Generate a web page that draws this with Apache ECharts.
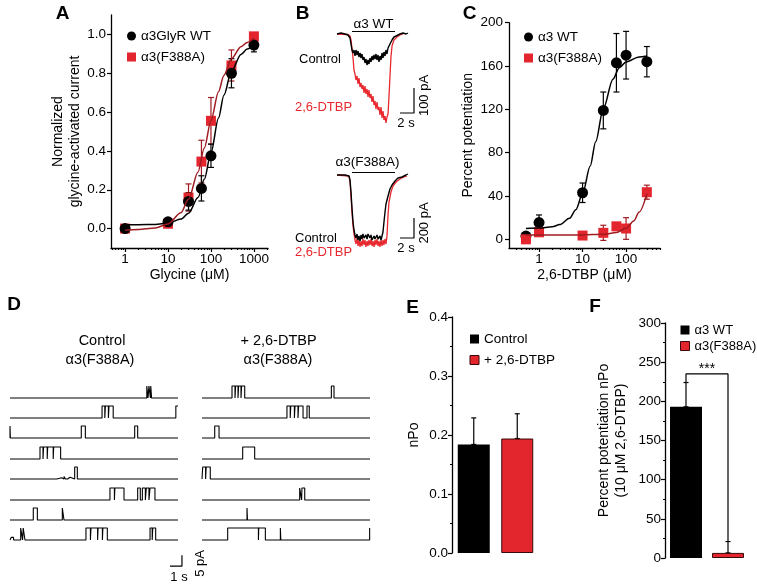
<!DOCTYPE html>
<html>
<head>
<meta charset="utf-8">
<script src="https://cdn.jsdelivr.net/npm/echarts@6/dist/echarts.min.js"></script>
<style>
  html, body { margin: 0; background: #fff; }
  #main { width: 757px; height: 586px; }
</style>
</head>
<body>
<div id="main"></div>
<script>
var lg = Math.log10;

// ---- A: glycine dose-response (normalized current)
var glyConc = [1, 10, 30, 60, 100, 300, 1000];
var glyWT = [0.0, 0.035, 0.14, 0.207, 0.375, 0.80, 0.945];
var glyWTErr = [0, 0.01, 0.045, 0.065, 0.06, 0.075, 0.035];
var glyMut = [0.0, 0.025, 0.16, 0.345, 0.555, 0.84, 0.99];
var glyMutErr = [0, 0.01, 0.07, 0.11, 0.12, 0.08, 0.012];
var glyFitConc = [1, 2, 5, 10, 20, 30, 50, 70, 100, 150, 200, 300, 500, 700, 1000];
var glyFitWT = [0.02, 0.02, 0.021, 0.028, 0.049, 0.079, 0.16, 0.254, 0.39, 0.57, 0.687, 0.81, 0.897, 0.925, 0.942];
var glyFitMut = [-0.008, -0.005, 0.003, 0.024, 0.082, 0.151, 0.292, 0.415, 0.556, 0.705, 0.789, 0.875, 0.937, 0.959, 0.98];
var glyTicks = [1, 10, 100, 1000];
var glyMinor = [0.5, 0.6, 0.7, 0.8, 0.9, 2, 3, 4, 5, 6, 7, 8, 9, 20, 30, 40, 50, 60, 70, 80, 90,
                200, 300, 400, 500, 600, 700, 800, 900, 2000];
var normTicks = [0, 0.2, 0.4, 0.6, 0.8, 1.0];

// ---- C: 2,6-DTBP potentiation
var dtbpConc = [0.5, 1, 10, 30, 60, 100, 300];
var potWT = [3, 15.5, 43, 119, 163, 170, 164];
var potWTErr = [2, 7, 9, 17, 27, 22, 14];
var potMut = [0, 6.5, 3.5, 6, 12, 10, 43.5];
var potMutErr = [0, 1, 1, 7, 2, 10, 6.5];
var dtbpFitConc = [0.5, 1, 2, 3, 5, 7, 10, 15, 20, 30, 50, 70, 100, 200, 300];
var dtbpFitWT = [10.1, 10.4, 11.6, 13.6, 19.4, 27.3, 42, 67.6, 90, 120.8, 147.9, 158.5, 163.8, 168.4, 169.3];
var dtbpFitMutConc = [0.5, 1, 3, 10, 30, 60, 100, 150, 200, 300];
var dtbpFitMut = [4, 4, 4, 4.1, 4.6, 6.3, 10.2, 17, 25.2, 42];
var dtbpTicks = [1, 10, 100];
var dtbpMinor = [0.3, 0.4, 0.5, 0.6, 0.7, 0.8, 0.9, 2, 3, 4, 5, 6, 7, 8, 9,
                 20, 30, 40, 50, 60, 70, 80, 90, 200, 300, 400, 500, 600];
var potTicks = [0, 40, 80, 120, 160, 200];

// ---- B: whole-cell currents (time s, current pA)
var wtCtrlTrace = [[0,0],[0.57,4],[1.14,0],[1.57,-4],[1.86,-16],[2.0,-40],[2.14,-64],[2.29,-76],[2.43,-64],
  [2.57,-88],[2.71,-64],[2.86,-84],[3.0,-68],[3.14,-92],[3.29,-76],[3.43,-96],[3.57,-80],[3.71,-104],
  [3.86,-92],[4.0,-116],[4.14,-100],[4.29,-124],[4.43,-104],[4.57,-120],[4.71,-96],[4.86,-112],[5.0,-88],
  [5.14,-104],[5.29,-84],[5.43,-100],[5.57,-80],[5.71,-104],[5.86,-84],[6.0,-112],[6.14,-88],[6.29,-104],
  [6.43,-76],[6.57,-96],[6.71,-72],[6.86,-88],[7.0,-64],[7.14,-80],[7.29,-56],[7.43,-64],[7.57,-40],
  [7.86,-24],[8.14,-12],[8.43,-8],[8.71,-4],[9.0,0],[9.43,4],[9.86,0],[10.14,4]];
var wtDtbpTrace = [[0,0],[1.57,-2],[1.86,-8],[2.0,-24],[2.14,-56],[2.29,-96],[2.43,-144],[2.57,-160],
  [2.71,-184],[2.86,-168],[3.0,-200],[3.14,-176],[3.29,-212],[3.43,-196],[3.57,-220],[3.71,-204],
  [3.86,-236],[4.0,-208],[4.14,-240],[4.29,-220],[4.43,-252],[4.57,-224],[4.71,-256],[4.86,-240],
  [5.0,-272],[5.14,-248],[5.29,-284],[5.43,-268],[5.57,-300],[5.71,-272],[5.86,-304],[6.0,-292],
  [6.14,-324],[6.29,-292],[6.43,-336],[6.57,-308],[6.71,-344],[6.86,-328],[7.0,-356],[7.14,-332],
  [7.29,-320],[7.43,-248],[7.57,-168],[7.71,-92],[7.86,-48],[8.14,-24],[8.57,-12],[9.0,-4],[9.43,0]];
var mutCtrlTrace = [[0,0],[1.14,0],[1.71,-10],[1.86,-50],[2.0,-170],[2.14,-330],[2.29,-470],[2.43,-550],
  [2.57,-600],[2.71,-630],[2.86,-590],[3.0,-650],[3.14,-610],[3.29,-660],[3.43,-600],[3.57,-640],
  [3.71,-590],[3.86,-630],[4.14,-600],[4.29,-640],[4.43,-590],[4.71,-630],[4.86,-600],[5.0,-650],
  [5.29,-610],[5.43,-640],[5.71,-600],[5.86,-640],[6.14,-610],[6.29,-650],[6.43,-610],[6.57,-570],
  [6.71,-470],[6.86,-370],[7.0,-290],[7.29,-210],[7.57,-140],[7.86,-100],[8.29,-60],[8.71,-30],
  [9.29,-20],[9.86,0],[10.14,10]];
var mutDtbpTrace = [[0,0],[1.71,-10],[1.86,-70],[2.0,-210],[2.14,-370],[2.29,-510],[2.43,-590],[2.57,-650],
  [2.71,-690],[2.86,-630],[3.0,-710],[3.14,-650],[3.29,-720],[3.43,-660],[3.57,-710],[3.71,-640],
  [3.86,-700],[4.0,-650],[4.14,-720],[4.29,-660],[4.43,-710],[4.57,-650],[4.71,-700],[4.86,-640],
  [5.0,-710],[5.14,-660],[5.29,-720],[5.43,-650],[5.57,-700],[5.71,-640],[5.86,-710],[6.0,-660],
  [6.14,-720],[6.29,-650],[6.43,-710],[6.57,-650],[6.71,-700],[6.86,-640],[7.0,-690],[7.14,-610],
  [7.29,-400],[7.43,-270],[7.71,-170],[8.0,-110],[8.43,-70],[9.0,-40],[9.57,-20],[10.0,-10]];
var appBarTop = [[2.14, 10], [8.29, 10]];
var appBarBottom = [[2.14, 25], [8.29, 25]];
var scaleTop = [[9, -316], [11, -316], [11, -216]];       // 2 s, 100 pA
var scaleBottom = [[9, -630], [11, -630], [11, -430]];    // 2 s, 200 pA

// ---- D: single-channel openings [start s, end s, (level pA)]
var openLevel = 5.5;
var traceEnd = 14;
var dCtrl = [
  [[11.4, 11.5], [11.58, 11.7], [11.73, 11.8]],
  [[7.67, 7.9], [7.95, 8.2], [8.25, 8.6], [13.82, 14]],
  [[0, 0.03], [5.94, 6.28], [10.39, 10.64]],
  [[2.5, 2.75], [2.8, 3.1], [3.14, 3.6], [3.64, 4.22]],
  [[3.9, 4.3, 0.6], [4.5, 4.62, 1.2], [4.8, 5.0, 0.8], [5.39, 5.61]],
  [[8.33, 8.7], [8.74, 9.5], [10.64, 10.86], [11.03, 11.28], [11.36, 11.58], [11.67, 12.08]],
  [[1.94, 2.28], [4.36, 4.5]],
  [[0.1, 0.3, 1.2], [0.89, 1.05], [1.1, 1.25], [6.33, 6.7], [6.75, 7.3], [7.34, 7.7], [7.74, 8.11], [11.67, 11.85], [11.9, 12.14]]
];
var dDtbp = [
  [[2.5, 2.75], [2.8, 3.0], [3.05, 3.25], [3.3, 3.56], [10.78, 11.0]],
  [[7.08, 7.35], [7.4, 7.7], [7.75, 8.0], [8.05, 8.42], [8.75, 8.94]],
  [[1.06, 1.42]],
  [[3.39, 4.39]],
  [[0.06, 0.3], [0.35, 0.69]],
  [[8.14, 8.3], [8.33, 8.56]],
  [[3.75, 3.79]],
  [[2.14, 4.7], [4.73, 5.28], [6.53, 6.57], [13.97, 14]]
];
var scaleD = [[13.33, 0], [14.33, 0], [14.33, 5]];        // 1 s, 5 pA

// ---- E: nPo
var npoNames = ['Control', '+ 2,6-DTBP'];
var npoMean = [0.184, 0.194];
var npoErr = [0.045, 0.042];

// ---- F: potentiation of nPo
var potNames = ['α3 WT', 'α3(F388A)'];
var potNpo = [193, 6.5];
var potNpoErr = [31, 14.5];
var sigLevel = 235;

var FONT = '"Liberation Sans", Arial, Helvetica, sans-serif';
var RED = '#e3262d';
var DARKRED = '#9e1c22';
var TRACE_RED = '#e8282e';

function merge(a, b) {
  var out = {};
  [a, b].forEach(function (src) {
    Object.keys(src || {}).forEach(function (k) {
      var v = src[k];
      if (v && typeof v === 'object' && !Array.isArray(v) &&
          out[k] && typeof out[k] === 'object' && !Array.isArray(out[k])) {
        out[k] = merge(out[k], v);
      } else {
        out[k] = v;
      }
    });
  });
  return out;
}

var grids = [], xAxes = [], yAxes = [], series = [], legends = [], graphics = [];
function addGrid(g) { grids.push(g); return grids.length - 1; }
function addX(a) { xAxes.push(a); return xAxes.length - 1; }
function addY(a) { yAxes.push(a); return yAxes.length - 1; }

function plotAxis(gi, extra) {
  return merge({
    gridIndex: gi, type: 'value',
    axisLine: { show: true, onZero: false, lineStyle: { color: '#000', width: 1.3 } },
    axisTick: { show: true, inside: false, length: 4, lineStyle: { color: '#000', width: 1.2 } },
    axisLabel: { color: '#000', fontSize: 13.5, fontFamily: FONT, margin: 5 },
    splitLine: { show: false },
    nameLocation: 'middle',
    nameTextStyle: { color: '#000', fontSize: 14, fontFamily: FONT, lineHeight: 17 }
  }, extra);
}
function hiddenAxis(gi, min, max) {
  return { gridIndex: gi, type: 'value', min: min, max: max, show: false };
}
function fmtPow(v) { return String(Math.round(Math.pow(10, v) * 1000) / 1000); }

function errorBars(color, half) {
  return function (params, api) {
    var x = api.value(0);
    var a = api.coord([x, api.value(1)]);
    var b = api.coord([x, api.value(2)]);
    var st = { stroke: color, lineWidth: 1.2 };
    return { type: 'group', children: [
      { type: 'line', shape: { x1: a[0], y1: a[1], x2: b[0], y2: b[1] }, style: st },
      { type: 'line', shape: { x1: a[0] - half, y1: a[1], x2: a[0] + half, y2: a[1] }, style: st },
      { type: 'line', shape: { x1: b[0] - half, y1: b[1], x2: b[0] + half, y2: b[1] }, style: st }
    ] };
  };
}
function errSeries(xi, yi, xs, mean, err, color, half, oneSided) {
  var data = [];
  xs.forEach(function (x, i) {
    if (err[i] > 0) data.push([x, oneSided ? mean[i] : mean[i] - err[i], mean[i] + err[i]]);
  });
  return { type: 'custom', xAxisIndex: xi, yAxisIndex: yi, renderItem: errorBars(color, half),
           encode: { x: 0, y: [1, 2] }, data: data, silent: true };
}
function zip(xs, ys) { return xs.map(function (x, i) { return [x, ys[i]]; }); }
function lineSeries(xi, yi, data, color, width, extra) {
  return merge({ type: 'line', xAxisIndex: xi, yAxisIndex: yi, data: data, showSymbol: false,
                 symbol: 'none', lineStyle: { color: color, width: width }, silent: true }, extra);
}
function legendStyle(extra) {
  return merge({ orient: 'vertical', itemWidth: 9, itemHeight: 9, itemGap: 7,
                 textStyle: { color: '#000', fontSize: 13.5, fontFamily: FONT, lineHeight: 14 },
                 selectedMode: false }, extra);
}
function txt(x, y, s, size, opts) {
  opts = opts || {};
  graphics.push({ type: 'text', x: x, y: y, rotation: opts.rot || 0, silent: true,
    style: { text: s, fill: opts.color || '#000', font: (opts.bold ? 'bold ' : '') + size + 'px ' + FONT,
             align: opts.align || 'center', verticalAlign: 'middle' } });
}

// ================= A =================
var gA = addGrid({ left: 111, top: 15, width: 157, height: 233 });
var xA = addX(plotAxis(gA, { min: lg(0.47), max: lg(2130), position: 'bottom',
  axisTick: { customValues: glyTicks.map(lg) },
  axisLabel: { customValues: glyTicks.map(lg), formatter: fmtPow, margin: 4 },
  name: 'Glycine (μM)', nameGap: 19 }));
var xAm = addX(plotAxis(gA, { min: lg(0.47), max: lg(2130), position: 'bottom',
  axisLine: { show: false }, axisLabel: { show: false },
  axisTick: { customValues: glyMinor.map(lg), length: 2 } }));
var yA = addY(plotAxis(gA, { min: -0.1, max: 1.1,
  axisTick: { customValues: normTicks },
  axisLabel: { customValues: normTicks, formatter: function (v) { return v.toFixed(1); } },
  name: 'Normalized\nglycine-activated current', nameGap: 27 }));
series.push(lineSeries(xA, yA, zip(glyFitConc.map(lg), glyFitWT), '#000', 1.5, { smooth: 0.3, smoothMonotone: 'x' }));
series.push(lineSeries(xA, yA, zip(glyFitConc.map(lg), glyFitMut), DARKRED, 1.5, { smooth: 0.3, smoothMonotone: 'x' }));
series.push(errSeries(xA, yA, glyConc.map(lg), glyMut, glyMutErr, DARKRED, 3));
series.push(errSeries(xA, yA, glyConc.map(lg), glyWT, glyWTErr, '#000', 3));
series.push({ type: 'scatter', name: 'α3(F388A)', xAxisIndex: xA, yAxisIndex: yA, symbol: 'rect', symbolSize: 10,
  itemStyle: { color: RED, opacity: 1 }, data: zip(glyConc.map(lg), glyMut) });
series.push({ type: 'scatter', name: 'α3GlyR WT', xAxisIndex: xA, yAxisIndex: yA, symbol: 'circle', symbolSize: 11,
  itemStyle: { color: '#000', opacity: 1 }, data: zip(glyConc.map(lg), glyWT) });
legends.push(legendStyle({ left: 122, top: 24, itemGap: 7,
  data: [{ name: 'α3GlyR WT', icon: 'circle', itemStyle: { color: '#000', opacity: 1 } },
         { name: 'α3(F388A)', icon: 'rect', itemStyle: { color: RED, opacity: 1 } }] }));

// ================= C =================
var gC = addGrid({ left: 509, top: 22.7, width: 151, height: 225.3 });
var xC = addX(plotAxis(gC, { min: lg(0.204), max: lg(602), position: 'bottom',
  axisTick: { customValues: dtbpTicks.map(lg) },
  axisLabel: { customValues: dtbpTicks.map(lg), formatter: fmtPow, margin: 4 },
  name: '2,6-DTBP (μM)', nameGap: 19 }));
var xCm = addX(plotAxis(gC, { min: lg(0.204), max: lg(602), position: 'bottom',
  axisLine: { show: false }, axisLabel: { show: false },
  axisTick: { customValues: dtbpMinor.map(lg), length: 2 } }));
var yC = addY(plotAxis(gC, { min: -8, max: 200,
  axisTick: { customValues: potTicks }, axisLabel: { customValues: potTicks, margin: 6 },
  name: 'Percent potentiation', nameGap: 27 }));
series.push(lineSeries(xC, yC, zip(dtbpFitConc.map(lg), dtbpFitWT), '#000', 1.5, { smooth: 0.3, smoothMonotone: 'x' }));
series.push(lineSeries(xC, yC, zip(dtbpFitMutConc.map(lg), dtbpFitMut), DARKRED, 1.5, { smooth: 0.3, smoothMonotone: 'x' }));
series.push(errSeries(xC, yC, dtbpConc.map(lg), potWT, potWTErr, '#000', 3));
series.push(errSeries(xC, yC, dtbpConc.map(lg), potMut, potMutErr, DARKRED, 3));
series.push({ type: 'scatter', name: 'α3 WT', xAxisIndex: xC, yAxisIndex: yC, symbol: 'circle', symbolSize: 11,
  itemStyle: { color: '#000', opacity: 1 }, data: zip(dtbpConc.map(lg), potWT) });
series.push({ type: 'scatter', name: 'α3(F388A)', xAxisIndex: xC, yAxisIndex: yC, symbol: 'rect', symbolSize: 10,
  itemStyle: { color: RED, opacity: 1 }, data: zip(dtbpConc.map(lg), potMut) });
legends.push(legendStyle({ left: 519, top: 25,
  data: [{ name: 'α3 WT', icon: 'circle', itemStyle: { color: '#000', opacity: 1 } },
         { name: 'α3(F388A)', icon: 'rect', itemStyle: { color: RED, opacity: 1 } }] }));

// ================= E =================
var gE = addGrid({ left: 452, top: 317, width: 87, height: 236 });
var xE = addX({ gridIndex: gE, type: 'category', data: npoNames, show: false });
var yE = addY(plotAxis(gE, { min: 0, max: 0.4, interval: 0.1,
  minorTick: { show: true, splitNumber: 2, length: 2, lineStyle: { color: '#000', width: 1.2 } },
  axisLabel: { formatter: function (v) { return v.toFixed(1); }, margin: 4 },
  name: 'nPo', nameGap: 29 }));
series.push({ type: 'bar', name: npoNames[0], xAxisIndex: xE, yAxisIndex: yE, barWidth: 32, barGap: '-100%',
  data: [npoMean[0], '-'], itemStyle: { color: '#000' }, silent: true });
series.push({ type: 'bar', name: npoNames[1], xAxisIndex: xE, yAxisIndex: yE, barWidth: 32, barGap: '-100%',
  data: ['-', npoMean[1]], itemStyle: { color: RED, borderColor: '#3a0808', borderWidth: 1 }, silent: true });
series.push(errSeries(xE, yE, [0, 1], npoMean, npoErr, '#000', 2.5, true));
legends.push(legendStyle({ left: 464.5, top: 327,
  data: [{ name: npoNames[0], icon: 'rect', itemStyle: { color: '#000' } },
         { name: npoNames[1], icon: 'rect', itemStyle: { color: RED, borderColor: '#3a0808', borderWidth: 1 } }] }));

// ================= F =================
var gF = addGrid({ left: 665, top: 323, width: 84, height: 235 });
var xF = addX({ gridIndex: gF, type: 'category', data: potNames, show: false });
var yF = addY(plotAxis(gF, { min: 0, max: 300, interval: 50,
  minorTick: { show: true, splitNumber: 2, length: 2, lineStyle: { color: '#000', width: 1.2 } },
  axisLabel: { margin: 4 },
  name: 'Percent potentiation nPo\n(10 μM 2,6-DTBP)', nameGap: 35 }));
series.push({ type: 'bar', name: potNames[0], xAxisIndex: xF, yAxisIndex: yF, barWidth: 32, barGap: '-100%',
  data: [potNpo[0], '-'], itemStyle: { color: '#000' }, silent: true });
series.push({ type: 'bar', name: potNames[1], xAxisIndex: xF, yAxisIndex: yF, barWidth: 32, barGap: '-100%',
  data: ['-', potNpo[1]], itemStyle: { color: RED, borderColor: '#3a0808', borderWidth: 1 }, silent: true });
series.push(errSeries(xF, yF, [0, 1], potNpo, potNpoErr, '#000', 2.5, true));
series.push(lineSeries(xF, yF, [[0, potNpo[0] + potNpoErr[0]], [0, sigLevel], [1, sigLevel],
  [1, potNpo[1] + potNpoErr[1]]], '#000', 1.2));
legends.push(legendStyle({ left: 675, top: 318, itemGap: 2,
  textStyle: { fontSize: 13 },
  data: [{ name: potNames[0], icon: 'rect', itemStyle: { color: '#000' } },
         { name: potNames[1], icon: 'rect', itemStyle: { color: RED, borderColor: '#3a0808', borderWidth: 1 } }] }));

// ================= B =================
var gB1 = addGrid({ left: 337, top: 28, width: 84, height: 100 });
var xB1 = addX(hiddenAxis(gB1, 0, 12)), yB1 = addY(hiddenAxis(gB1, -376, 24));
series.push(lineSeries(xB1, yB1, wtDtbpTrace, TRACE_RED, 1.3));
series.push(lineSeries(xB1, yB1, wtCtrlTrace, '#000', 1.4));
series.push(lineSeries(xB1, yB1, appBarTop, '#000', 1.2));
series.push(lineSeries(xB1, yB1, scaleTop, '#000', 1.2));
var gB2 = addGrid({ left: 337, top: 165, width: 84, height: 95 });
var xB2 = addX(hiddenAxis(gB2, 0, 12)), yB2 = addY(hiddenAxis(gB2, -850, 100));
series.push(lineSeries(xB2, yB2, mutDtbpTrace, TRACE_RED, 1.3));
series.push(lineSeries(xB2, yB2, mutCtrlTrace, '#000', 1.4));
series.push(lineSeries(xB2, yB2, appBarBottom, '#000', 1.2));
series.push(lineSeries(xB2, yB2, scaleBottom, '#000', 1.2));

// ================= D =================
function stepTrace(events) {
  var pts = [[0, 0]];
  var open = false;
  events.forEach(function (e) {
    var lvl = e.length > 2 ? e[2] : openLevel;
    pts.push([e[0], 0], [e[0], lvl], [e[1], lvl]);
    if (e[1] < traceEnd) { pts.push([e[1], 0]); open = false; } else { open = true; }
  });
  if (!open) pts.push([traceEnd, 0]);
  return pts;
}
var rowBase = [398, 418, 438, 459, 479, 500, 520, 540];
[[10, dCtrl], [202, dDtbp]].forEach(function (col) {
  col[1].forEach(function (events, r) {
    var g = addGrid({ left: col[0], top: rowBase[r] - 15.2, width: 168, height: 18.5 });
    var xi = addX(hiddenAxis(g, 0, traceEnd)), yi = addY(hiddenAxis(g, -1.5, 7));
    series.push(lineSeries(xi, yi, stepTrace(events), '#000', 1.1));
  });
});
var gDs = addGrid({ left: 10, top: 566 - 15.2, width: 175, height: 18.5 });
var xDs = addX(hiddenAxis(gDs, 0, 175 / 12)), yDs = addY(hiddenAxis(gDs, -1.5, 7));
series.push(lineSeries(xDs, yDs, scaleD, '#000', 1.2));

// ================= text =================
txt(62.5, 13.5, 'A', 19, { bold: true });
txt(302.5, 13.5, 'B', 19, { bold: true });
txt(469.5, 13.5, 'C', 19, { bold: true });
txt(14, 305, 'D', 19, { bold: true });
txt(412.5, 307.5, 'E', 19, { bold: true });
txt(595, 307, 'F', 19, { bold: true });

txt(373.5, 24, 'α3 WT', 13.5);
txt(299, 59, 'Control', 13, { align: 'left' });
txt(295, 107, '2,6-DTBP', 13, { align: 'left', color: TRACE_RED });
txt(406, 123, '2 s', 13);
txt(424, 95.5, '100 pA', 13, { rot: Math.PI / 2 });
txt(367.5, 162, 'α3(F388A)', 13.5);
txt(295, 238, 'Control', 13, { align: 'left' });
txt(295, 252.5, '2,6-DTBP', 13, { align: 'left', color: TRACE_RED });
txt(406, 248.5, '2 s', 13);
txt(424, 223, '200 pA', 13, { rot: Math.PI / 2 });

txt(102, 341, 'Control', 14.5);
txt(100, 360, 'α3(F388A)', 14.5);
txt(278.5, 341, '+ 2,6-DTBP', 14.5);
txt(278, 360, 'α3(F388A)', 14.5);
txt(179, 577, '1 s', 13);
txt(200.5, 563.5, '5 pA', 13, { rot: Math.PI / 2 });

txt(707, 369, '***', 14);

var chart = echarts.init(document.getElementById('main'));
chart.setOption({
  animation: false,
  backgroundColor: '#fff',
  textStyle: { fontFamily: FONT },
  grid: grids,
  xAxis: xAxes,
  yAxis: yAxes,
  legend: legends,
  series: series,
  graphic: graphics
});
</script>
</body>
</html>
